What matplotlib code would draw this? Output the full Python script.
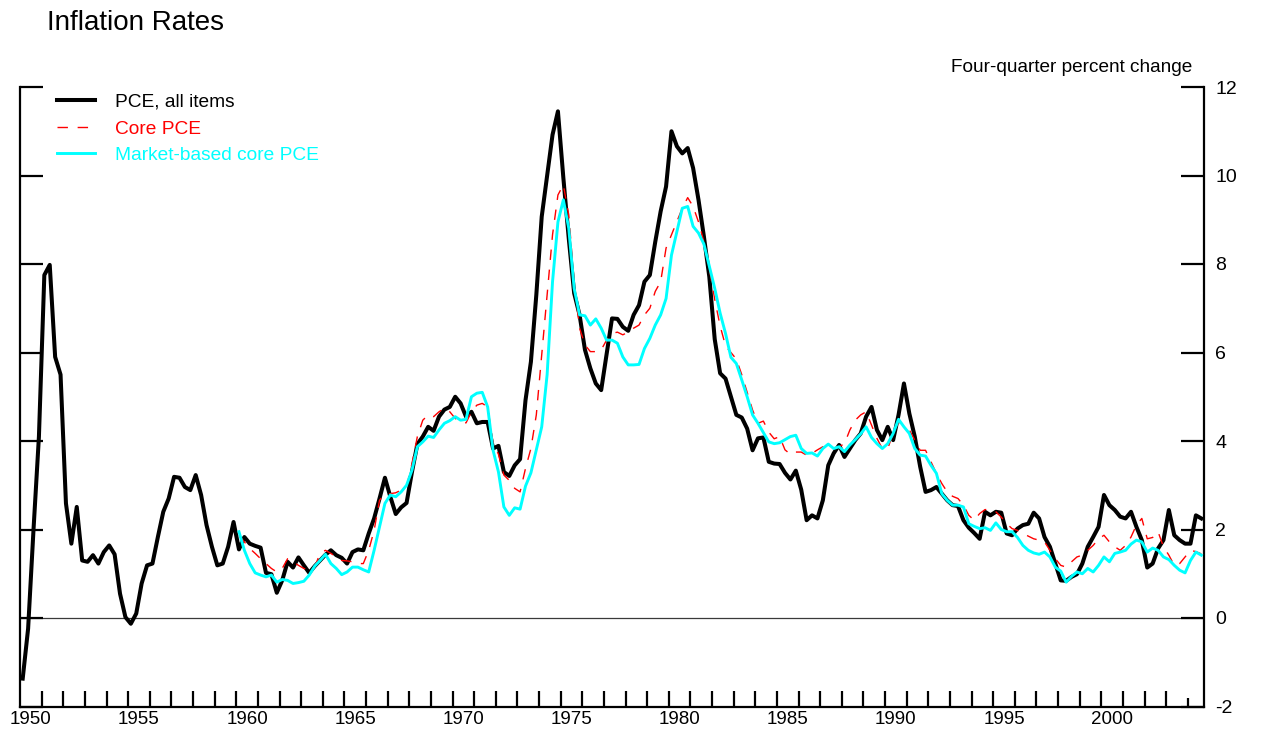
import numpy as np
import matplotlib
matplotlib.use("Agg")
import matplotlib.pyplot as plt

plt.rcParams['font.family'] = ['Liberation Sans', 'DejaVu Sans']

# ---------------- data (four-quarter percent change, quarterly) ----------------
pce_start_year = 1950          # 1950Q1 ...
pce_all_items = [
    -1.37, -0.24, 2.00, 4.10,    # 1950
    7.75, 7.98, 5.90, 5.50,      # 1951
    2.59, 1.68, 2.51, 1.30,      # 1952
    1.27, 1.42, 1.23, 1.49,      # 1953
    1.64, 1.44, 0.55, 0.02,      # 1954
    -0.13, 0.10, 0.78, 1.19,     # 1955
    1.23, 1.83, 2.40, 2.70,      # 1956
    3.19, 3.17, 2.96, 2.89,      # 1957
    3.23, 2.78, 2.10, 1.61,      # 1958
    1.19, 1.23, 1.61, 2.17,      # 1959
    1.55, 1.83, 1.68, 1.63,      # 1960
    1.59, 1.02, 0.99, 0.57,      # 1961
    0.85, 1.27, 1.14, 1.37,      # 1962
    1.19, 1.02, 1.17, 1.30,      # 1963
    1.43, 1.53, 1.42, 1.36,      # 1964
    1.23, 1.49, 1.55, 1.53,      # 1965
    1.91, 2.25, 2.70, 3.17,      # 1966
    2.74, 2.35, 2.50, 2.60,      # 1967
    3.30, 3.93, 4.10, 4.32,      # 1968
    4.23, 4.55, 4.71, 4.77,      # 1969
    5.00, 4.85, 4.55, 4.66,      # 1970
    4.40, 4.43, 4.43, 3.83,      # 1971
    3.89, 3.30, 3.21, 3.45,      # 1972
    3.59, 4.92, 5.79, 7.30,      # 1973
    9.07, 10.00, 10.92, 11.45,   # 1974
    9.95, 8.58, 7.34, 6.85,      # 1975
    6.06, 5.64, 5.30, 5.15,      # 1976
    5.96, 6.77, 6.76, 6.58,      # 1977
    6.49, 6.85, 7.07, 7.60,      # 1978
    7.75, 8.50, 9.19, 9.75,      # 1979
    11.00, 10.66, 10.50, 10.62,  # 1980
    10.17, 9.45, 8.62, 7.71,     # 1981
    6.30, 5.53, 5.41, 5.00,      # 1982
    4.59, 4.53, 4.28, 3.79,      # 1983
    4.06, 4.08, 3.53, 3.49,      # 1984
    3.48, 3.28, 3.13, 3.33,      # 1985
    2.90, 2.21, 2.32, 2.25,      # 1986
    2.66, 3.45, 3.72, 3.91,      # 1987
    3.64, 3.83, 4.02, 4.17,      # 1988
    4.55, 4.77, 4.25, 4.02,      # 1989
    4.32, 4.02, 4.59, 5.30,      # 1990
    4.62, 4.10, 3.42, 2.85,      # 1991
    2.89, 2.96, 2.81, 2.66,      # 1992
    2.55, 2.53, 2.21, 2.04,      # 1993
    1.92, 1.79, 2.40, 2.32,      # 1994
    2.40, 2.38, 1.91, 1.87,      # 1995
    2.02, 2.10, 2.13, 2.38,      # 1996
    2.25, 1.83, 1.61, 1.23,      # 1997
    0.85, 0.84, 0.93, 0.99,      # 1998
    1.23, 1.61, 1.83, 2.06,      # 1999
    2.78, 2.55, 2.44, 2.29,      # 2000
    2.25, 2.40, 2.06, 1.76,      # 2001
    1.14, 1.23, 1.57, 1.76,      # 2002
    2.44, 1.87, 1.76, 1.68,      # 2003
    1.68, 2.32, 2.25,            # 2004
]

core_start_year = 1960         # 1960Q1 ...
core_pce = [
    1.87, 1.72, 1.57, 1.46,      # 1960
    1.34, 1.23, 1.12, 1.04,      # 1961
    1.12, 1.34, 1.27, 1.19,      # 1962
    1.12, 1.08, 1.15, 1.46,      # 1963
    1.53, 1.46, 1.38, 1.30,      # 1964
    1.29, 1.27, 1.23, 1.23,      # 1965
    1.53, 1.98, 2.66, 2.81,      # 1966
    2.81, 2.83, 2.89, 2.96,      # 1967
    3.49, 4.10, 4.47, 4.59,      # 1968
    4.55, 4.66, 4.74, 4.66,      # 1969
    4.51, 4.43, 4.41, 4.66,      # 1970
    4.81, 4.85, 4.77, 3.95,      # 1971
    3.70, 3.23, 3.11, 2.93,      # 1972
    2.85, 3.38, 3.83, 4.59,      # 1973
    5.94, 7.30, 8.66, 9.56,      # 1974
    9.79, 9.11, 7.60, 6.55,      # 1975
    6.17, 6.02, 6.02, 6.06,      # 1976
    6.28, 6.43, 6.46, 6.40,      # 1977
    6.46, 6.55, 6.62, 6.85,      # 1978
    7.00, 7.38, 7.60, 8.36,      # 1979
    8.66, 8.96, 9.26, 9.50,      # 1980
    9.30, 8.95, 8.50, 7.90,      # 1981
    7.20, 6.60, 6.15, 6.00,      # 1982
    5.85, 5.50, 5.10, 4.70,      # 1983
    4.40, 4.45, 4.20, 4.05,      # 1984
    4.10, 3.80, 3.70, 3.75,      # 1985
    3.75, 3.68, 3.72, 3.80,      # 1986
    3.87, 3.83, 3.83, 3.87,      # 1987
    3.94, 4.25, 4.47, 4.59,      # 1988
    4.66, 4.36, 4.06, 3.83,      # 1989
    3.83, 4.17, 4.43, 4.36,      # 1990
    4.25, 4.02, 3.79, 3.79,      # 1991
    3.53, 3.27, 3.04, 2.85,      # 1992
    2.75, 2.70, 2.55, 2.32,      # 1993
    2.21, 2.36, 2.45, 2.45,      # 1994
    2.40, 2.28, 2.13, 2.02,      # 1995
    1.98, 1.91, 1.85, 1.79,      # 1996
    1.76, 1.72, 1.53, 1.34,      # 1997
    1.19, 1.15, 1.27, 1.38,      # 1998
    1.42, 1.53, 1.64, 1.79,      # 1999
    1.87, 1.72, 1.61, 1.53,      # 2000
    1.64, 1.83, 2.10, 2.25,      # 2001
    1.79, 1.82, 1.95, 1.61,      # 2002
    1.42, 1.19, 1.23, 1.38,      # 2003
    1.53, 1.50, 1.45,            # 2004
]

market_based_core_pce = [
    1.95, 1.53, 1.23, 1.02,      # 1960
    0.97, 0.93, 0.97, 0.81,      # 1961
    0.87, 0.85, 0.78, 0.80,      # 1962
    0.83, 0.97, 1.17, 1.30,      # 1963
    1.44, 1.23, 1.12, 0.98,      # 1964
    1.04, 1.15, 1.15, 1.09,      # 1965
    1.04, 1.53, 2.06, 2.59,      # 1966
    2.78, 2.74, 2.85, 3.00,      # 1967
    3.34, 3.87, 3.98, 4.11,      # 1968
    4.08, 4.25, 4.40, 4.46,      # 1969
    4.55, 4.47, 4.49, 5.00,      # 1970
    5.08, 5.10, 4.77, 3.79,      # 1971
    3.30, 2.51, 2.32, 2.49,      # 1972
    2.46, 2.98, 3.28, 3.80,      # 1973
    4.32, 5.50, 7.60, 8.95,      # 1974
    9.45, 8.81, 7.45, 6.85,      # 1975
    6.83, 6.62, 6.76, 6.55,      # 1976
    6.28, 6.28, 6.21, 5.90,      # 1977
    5.72, 5.72, 5.73, 6.09,      # 1978
    6.32, 6.62, 6.85, 7.22,      # 1979
    8.20, 8.73, 9.26, 9.30,      # 1980
    8.85, 8.70, 8.45, 7.95,      # 1981
    7.45, 6.89, 6.43, 5.89,      # 1982
    5.75, 5.38, 5.00, 4.59,      # 1983
    4.40, 4.19, 3.98, 3.94,      # 1984
    3.96, 4.03, 4.10, 4.13,      # 1985
    3.83, 3.72, 3.73, 3.66,      # 1986
    3.83, 3.93, 3.83, 3.87,      # 1987
    3.76, 3.91, 4.03, 4.16,      # 1988
    4.32, 4.08, 3.94, 3.83,      # 1989
    3.94, 4.17, 4.49, 4.32,      # 1990
    4.17, 3.83, 3.68, 3.66,      # 1991
    3.45, 3.27, 2.81, 2.66,      # 1992
    2.55, 2.55, 2.51, 2.13,      # 1993
    2.07, 2.02, 2.04, 1.98,      # 1994
    2.15, 2.00, 1.95, 1.95,      # 1995
    1.82, 1.64, 1.53, 1.47,      # 1996
    1.44, 1.49, 1.38, 1.15,      # 1997
    1.06, 0.81, 0.94, 1.04,      # 1998
    1.00, 1.12, 1.04, 1.19,      # 1999
    1.38, 1.27, 1.46, 1.49,      # 2000
    1.53, 1.67, 1.76, 1.72,      # 2001
    1.49, 1.58, 1.53, 1.38,      # 2002
    1.32, 1.19, 1.08, 1.02,      # 2003
    1.30, 1.49, 1.42,            # 2004
]

series_labels = ['PCE, all items', 'Core PCE', 'Market-based core PCE']
year_tick_labels = ['1950', '1955', '1960', '1965', '1970', '1975',
                    '1980', '1985', '1990', '1995', '2000']
y_ticks = [-2, 0, 2, 4, 6, 8, 10, 12]


def quarter_dates(start_year, n):
    """Mid-quarter position of each observation, in years."""
    return start_year + (np.arange(n) + 0.5) / 4.0


# ---------------- figure ----------------
W, H = 1262, 732
fig = plt.figure(figsize=(W / 100, H / 100), dpi=100)
ax = fig.add_axes([20 / W, (H - 706.5) / H, (1204 - 20) / W, (706.5 - 87) / H])

ax.set_xlim(1950, 2004.75)
ax.set_ylim(-2, 12)

ax.axhline(0, color='#3a3a3a', lw=0.9, zorder=1)

ax.plot(quarter_dates(pce_start_year, len(pce_all_items)), pce_all_items,
        color='black', lw=2.9, label=series_labels[0], zorder=3)
ax.plot(quarter_dates(core_start_year, len(core_pce)), core_pce,
        color='red', lw=1.0, dashes=(7.5, 7.0), label=series_labels[1], zorder=4)
ax.plot(quarter_dates(core_start_year, len(market_based_core_pce)), market_based_core_pce,
        color='cyan', lw=2.1, label=series_labels[2], zorder=5)

# spines
ax.spines['top'].set_visible(False)
for s in ('left', 'right', 'bottom'):
    ax.spines[s].set_linewidth(1.6)
    ax.spines[s].set_color('black')

# y axis: ticks on both sides pointing in, labels on the right
ax.set_yticks(y_ticks)
ax.set_yticklabels([str(v) for v in y_ticks])
ax.tick_params(axis='y', which='major', direction='in', length=16.5, width=1.6,
               left=True, right=True, labelleft=False, labelright=True,
               pad=8, labelsize=14)

# x axis: a tick at each year boundary, labels every five years at mid-year
ax.set_xticks(np.arange(1951, 2005))
ax.set_xticklabels([])
ax.tick_params(axis='x', which='major', direction='in', length=11.5, width=1.6,
               bottom=True, top=False)
ax.set_xticks(np.arange(1950.5, 2001, 5), minor=True)
ax.set_xticklabels(year_tick_labels, minor=True)
ax.tick_params(axis='x', which='minor', length=0, pad=3, labelsize=13.5)
# last (partial) year gets a short tick
ax.xaxis.get_major_ticks()[-1].tick1line.set_markersize(6.5)

# legend
leg = ax.legend(loc='upper left', bbox_to_anchor=(57 / W, 1 - 93.5 / H),
                bbox_transform=fig.transFigure, frameon=False, fontsize=13.8,
                handlelength=1.99, handletextpad=1.03, labelspacing=0.48,
                borderpad=0, borderaxespad=0, labelcolor='linecolor')

# texts
fig.text(47 / W, 1 - 30 / H, 'Inflation Rates', fontsize=20, ha='left', va='baseline')
fig.text(1192 / W, 1 - 72 / H, 'Four-quarter percent change', fontsize=13.7,
         ha='right', va='baseline')

fig.savefig('out.png', dpi=100)
